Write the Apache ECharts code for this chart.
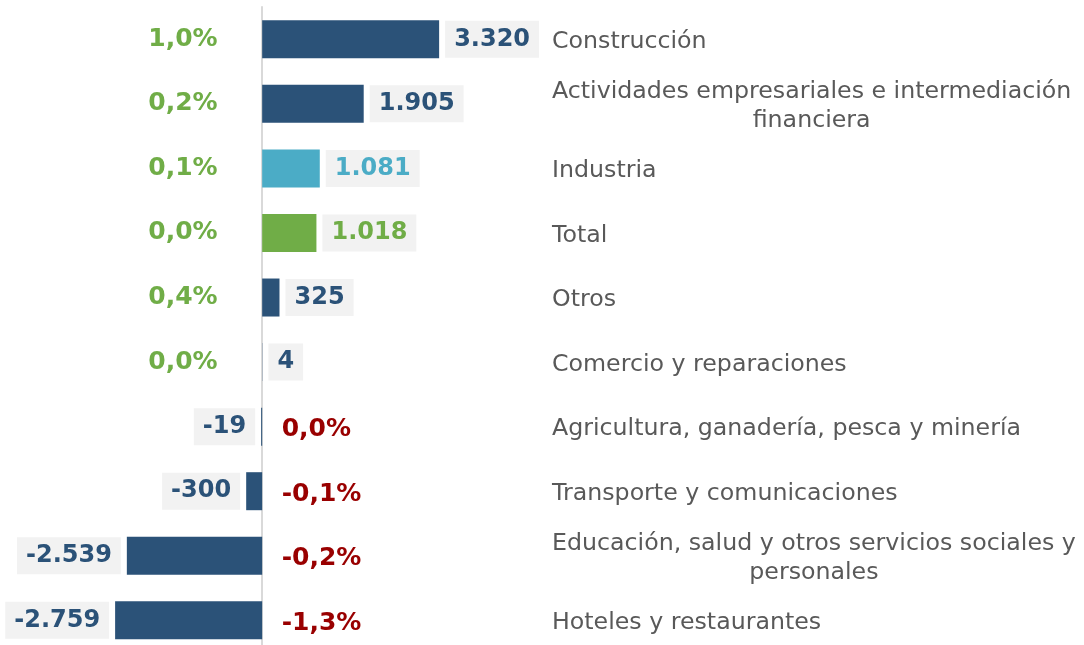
<!DOCTYPE html>
<html>
<head>
<meta charset="utf-8">
<script src="https://cdn.jsdelivr.net/npm/echarts@6/dist/echarts.min.js"></script>
<style>
  html, body { margin: 0; padding: 0; background: #ffffff; overflow: hidden; }
  #chart { width: 1084px; height: 664px; }
</style>
</head>
<body>
<div id="chart"></div>
<script>
// ---- data ----
const categories = [
  'Construcción',
  'Actividades empresariales e intermediación\nfinanciera',
  'Industria',
  'Total',
  'Otros',
  'Comercio y reparaciones',
  'Agricultura, ganadería, pesca y minería',
  'Transporte y comunicaciones',
  'Educación, salud y otros servicios sociales y\npersonales',
  'Hoteles y restaurantes'
];
const values = [3320, 1905, 1081, 1018, 325, 4, -19, -300, -2539, -2759];
const pctChange = [1.0, 0.2, 0.1, 0.0, 0.4, 0.0, 0.0, -0.1, -0.2, -1.3];

// ---- styles ----
const FONT = '"DejaVu Sans", Verdana, sans-serif';
const DARK_BLUE = '#2B5278';
const HIGHLIGHT = { 'Industria': '#4BACC6', 'Total': '#70AD47' };
const POS_PCT = '#70AD47';
const NEG_PCT = '#990000';

function fmtThousands(v) {
  const s = Math.abs(v).toString().replace(/\B(?=(\d{3})+(?!\d))/g, '.');
  return (v < 0 ? '-' : '') + s;
}
function fmtPct(p) {
  return p.toFixed(1).replace('.', ',') + '%';
}

const barData = values.map((v, i) => {
  const c = HIGHLIGHT[categories[i]] || DARK_BLUE;
  return {
    value: v,
    itemStyle: { color: c },
    label: {
      show: true,
      position: v >= 0 ? 'right' : 'left',
      distance: 6,
      color: c,
      formatter: () => fmtThousands(v)
    }
  };
});

const pctData = pctChange.map((p, i) => {
  const pos = values[i] >= 0;
  return {
    value: [0, i],
    label: {
      show: true,
      position: pos ? 'left' : 'right',
      distance: pos ? 44 : 19,
      color: pos ? POS_PCT : NEG_PCT,
      offset: [0, pos ? 0 : 3],
      formatter: () => fmtPct(p)
    }
  };
});

const chart = echarts.init(document.getElementById('chart'), null, { renderer: 'canvas' });
chart.setOption({
  animation: false,
  backgroundColor: '#ffffff',
  textStyle: { fontFamily: FONT },
  grid: { left: 1, right: 550, top: 7, height: 645.6, containLabel: false },
  xAxis: {
    type: 'value',
    min: -4900,
    max: 5100,
    axisLine: { show: false },
    axisTick: { show: false },
    axisLabel: { show: false },
    splitLine: { show: false }
  },
  yAxis: [
    {
      type: 'category',
      data: categories,
      inverse: true,
      axisLine: { show: true, onZero: true, lineStyle: { color: '#D9D9D9', width: 2 } },
      axisTick: { show: false },
      axisLabel: { show: false }
    },
    {
      type: 'category',
      data: categories,
      inverse: true,
      position: 'right',
      axisLine: { show: false },
      axisTick: { show: false },
      axisLabel: {
        show: true,
        interval: 0,
        margin: 18,
        align: 'left',
        padding: [5, 0, 0, 0],
        formatter: (val) => val.split('\n').map(l => '{c|' + l + '}').join('\n'),
        rich: {
          c: {
            align: 'center',
            fontFamily: FONT,
            fontSize: 23.7,
            lineHeight: 29,
            color: '#595959'
          }
        }
      }
    }
  ],
  series: [
    {
      type: 'bar',
      xAxisIndex: 0,
      yAxisIndex: 0,
      barWidth: 38,
      data: barData,
      label: {
        fontFamily: FONT,
        fontSize: 24,
        fontWeight: 'bold',
        backgroundColor: '#F2F2F2',
        padding: [5, 9, 4, 9],
        lineHeight: 28
      }
    },
    {
      type: 'scatter',
      xAxisIndex: 0,
      yAxisIndex: 0,
      symbolSize: 1,
      itemStyle: { color: 'rgba(0,0,0,0)', opacity: 1 },
      data: pctData,
      label: {
        fontFamily: FONT,
        fontSize: 25,
        fontWeight: 'bold',
        opacity: 1
      },
      emphasis: { disabled: true },
      z: 5
    }
  ]
});
</script>
</body>
</html>
